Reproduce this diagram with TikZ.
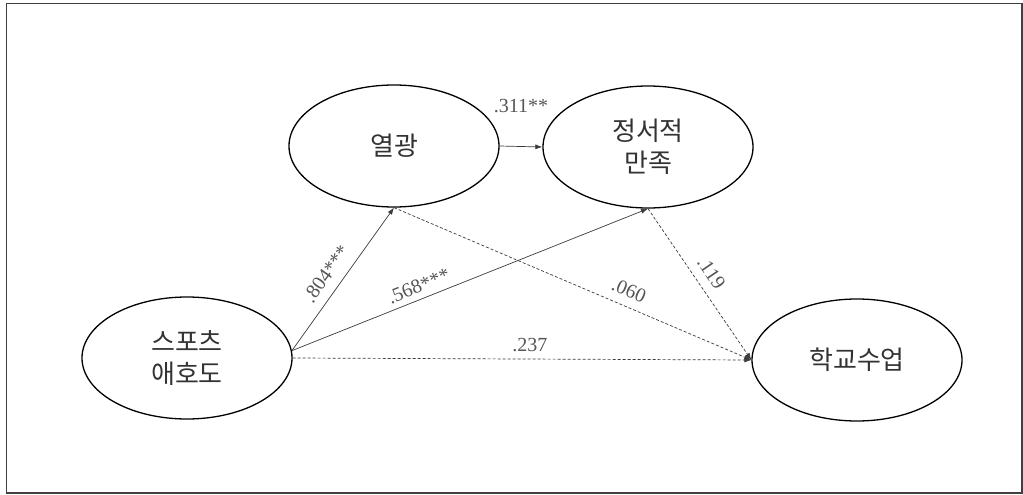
\documentclass[tikz,border=0pt]{standalone}
\usepackage{fontspec}
\newfontfamily\kofont{Noto Sans CJK KR}
\newfontfamily\numfont{Liberation Serif}
\usetikzlibrary{shapes.geometric,arrows.meta}
\definecolor{linegray}{HTML}{3A3A3A}
\definecolor{labelgray}{HTML}{555555}
\tikzset{
  latent/.style={draw,ellipse,line width=1.3pt,minimum width=210pt,minimum height=122pt,inner sep=0pt,align=center,font=\kofont\fontsize{26}{32}\selectfont,text=black!80},
  path/.style={-{Latex[length=7pt,width=5pt]},line width=0.7pt,linegray},
  weakpath/.style={path,dash pattern=on 3pt off 2pt},
  coef/.style={font=\numfont\fontsize{20}{22}\selectfont,text=labelgray,inner sep=2pt}
}
\begin{document}
\begin{tikzpicture}[x=1pt,y=-1pt]
\useasboundingbox (0,0) rectangle (1023,495);
% frame
\draw[line width=1.4pt,black!75] (6.5,3.5) rectangle (1022,493);
% latent variables
\node[latent] (passion) at (394,146) {열광};
\node[latent] (emotion) at (648,147) {정서적\\만족};
\node[latent] (sport) at (187,358) {스포츠\\애호도};
\node[latent] (lesson) at (857,360) {학교수업};
% significant paths
\draw[path] (passion.east) -- (emotion.west) node[coef,pos=0.5,above=31pt] {.311**};
\draw[path] (sport.4) -- (passion.south) node[coef,pos=0.47,sloped,above=7.5pt] {.804***};
\draw[path] (sport.4) -- (emotion.south) node[coef,pos=0.37,sloped,above=4pt] {.568***};
% non-significant paths
\draw[weakpath] (passion.south) -- (lesson.west) node[coef,pos=0.64,sloped,above=7pt] {.060};
\draw[weakpath] (emotion.south) -- (lesson.west) node[coef,pos=0.485,sloped,above=7pt] {.119};
\draw[weakpath] (sport.east) -- (lesson.west) node[coef,pos=0.517,above=5pt] {.237};
\end{tikzpicture}
\end{document}
